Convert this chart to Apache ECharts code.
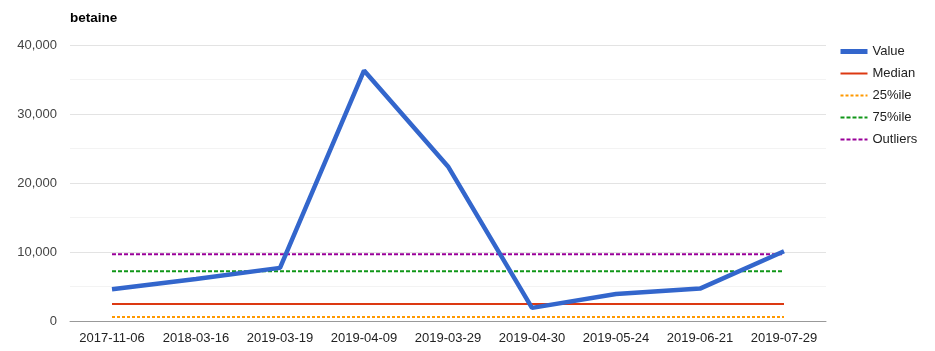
<!DOCTYPE html>
<html><head><meta charset="utf-8">
<script src="https://cdn.jsdelivr.net/npm/echarts@6/dist/echarts.min.js"></script>
<style>html,body{margin:0;padding:0;background:#fff}#c{width:935px;height:351px}</style>
</head><body><div id="c"></div>
<script>
const categories = ["2017-11-06","2018-03-16","2019-03-19","2019-04-09","2019-03-29","2019-04-30","2019-05-24","2019-06-21","2019-07-29"];
const values = [4600, 6100, 7700, 36300, 22400, 1900, 3900, 4700, 10100];
const median = 2460;
const p25 = 580;
const p75 = 7200;
const outliers = 9660;
const yTicks = [0, 10000, 20000, 30000, 40000];

const chart = echarts.init(document.getElementById('c'), null, {renderer:'canvas'});
const flat = v => categories.map(() => v);
const font = 'Arial, "Liberation Sans", sans-serif';
chart.setOption({
  animation:false,
  title:{text:'betaine', left:70, top:11, padding:0, textStyle:{fontFamily:font, fontSize:13.5, fontWeight:'bold', color:'#000'}},
  grid:{left:70, right:109, top:45, bottom:30},
  legend:{orient:'vertical', left:838, top:45, padding:0, itemWidth:27, itemHeight:14, itemGap:9,
    itemStyle:{opacity:0},
    textStyle:{fontFamily:font, fontSize:13, color:'#222'},
    data:[{name:'Value', lineStyle:{width:5}},{name:'Median'},{name:'25%ile'},{name:'75%ile'},{name:'Outliers'}]},
  xAxis:{type:'category', data:categories, boundaryGap:true,
    axisTick:{show:false}, axisLine:{show:true, lineStyle:{color:'#999', width:1}},
    axisLabel:{fontFamily:font, fontSize:13, color:'#222', margin:11, interval:0}},
  yAxis:{type:'value', min:yTicks[0], max:yTicks[yTicks.length-1], interval:10000,
    axisLine:{show:false}, axisTick:{show:false},
    axisLabel:{fontFamily:font, fontSize:13, color:'#444', margin:13,
      formatter:v => v.toLocaleString('en-US')},
    splitLine:{lineStyle:{color:'#e3e3e3', width:1}},
    minorTick:{show:false, splitNumber:2},
    minorSplitLine:{show:true, lineStyle:{color:'#f3f3f3', width:1}}},
  series:[
    {name:'Value', type:'line', data:values, symbol:'none', z:5, color:'#3366cc', lineStyle:{color:'#3366cc', width:4.5}},
    {name:'Median', type:'line', data:flat(median), symbol:'none', color:'#dc3912', lineStyle:{color:'#dc3912', width:2}},
    {name:'25%ile', type:'line', data:flat(p25), symbol:'none', color:'#ff9900', lineStyle:{color:'#ff9900', width:2, type:[3,2]}},
    {name:'75%ile', type:'line', data:flat(p75), symbol:'none', color:'#109618', lineStyle:{color:'#109618', width:2, type:[4,2]}},
    {name:'Outliers', type:'line', data:flat(outliers), symbol:'none', color:'#990099', lineStyle:{color:'#990099', width:2, type:[4,2]}}
  ]
});
</script></body></html>
